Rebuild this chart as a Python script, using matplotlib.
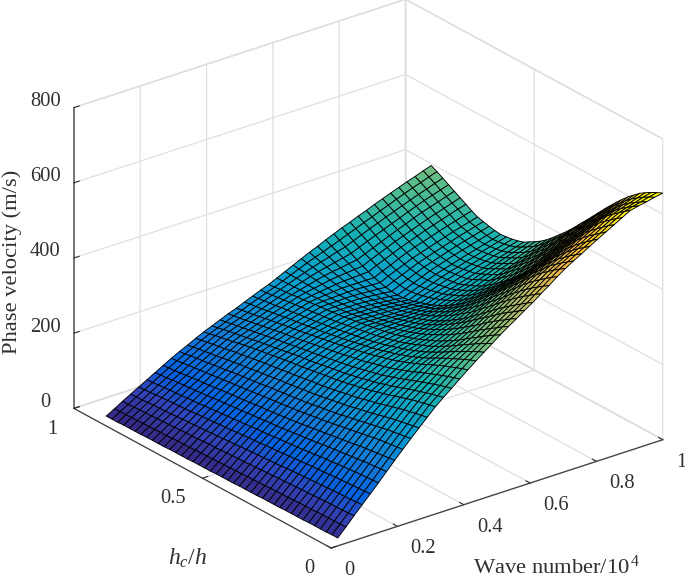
import numpy as np
import matplotlib
matplotlib.use('Agg')
import matplotlib.pyplot as plt
from matplotlib.colors import LinearSegmentedColormap

# hand read values, rows = wave number, columns = hc/h
wave = [0.02, 0.0445, 0.069, 0.0935, 0.118, 0.1425, 0.167, 0.1915, 0.216, 0.2405, 0.265,
        0.2895, 0.314, 0.3385, 0.363, 0.3875, 0.412, 0.4365, 0.461, 0.4855, 0.51,
        0.5345, 0.559, 0.5835, 0.608, 0.6325, 0.657, 0.6815, 0.706, 0.7305, 0.755,
        0.7795, 0.804, 0.8285, 0.853, 0.8775, 0.902, 0.9265, 0.951, 0.9755, 1.0]
ratio = [0.0, 0.0225, 0.045, 0.0675, 0.09, 0.1125, 0.135, 0.1575, 0.18, 0.2025, 0.225,
         0.2475, 0.27, 0.2925, 0.315, 0.3375, 0.36, 0.3825, 0.405, 0.4275, 0.45,
         0.4725, 0.495, 0.5175, 0.54, 0.5625, 0.585, 0.6075, 0.63, 0.6525, 0.675,
         0.6975, 0.72, 0.7425, 0.765, 0.7875, 0.81, 0.8325, 0.855, 0.8775, 0.9]
speed = [
    [21,21,20,20,20,20,19,19,19,19,18,18,18,18,17,17,17,17,16,16,16,16,15,15,15,15,14,14,14,14,13,13,13,13,12,12,12,12,11,11,11],
    [43,43,42,42,42,41,40,40,40,39,38,38,38,37,36,36,35,35,34,34,33,33,32,32,31,31,30,29,29,29,28,27,27,27,26,26,25,25,24,24,23],
    [66,65,64,64,63,63,62,61,60,60,59,58,57,57,55,55,54,53,52,51,51,50,49,48,47,47,46,45,44,44,43,42,41,41,40,39,39,38,37,36,36],
    [88,87,86,85,85,84,83,82,81,80,79,78,77,76,74,73,72,71,70,69,68,67,65,65,63,62,61,60,59,58,57,56,55,54,53,52,52,51,49,49,48],
    [110,109,108,107,106,105,104,103,101,100,99,98,96,95,93,92,90,89,88,86,85,84,82,81,79,78,77,75,74,73,72,70,69,68,67,66,65,64,62,61,60],
    [132,131,130,129,128,126,125,123,121,120,118,116,114,112,110,109,107,106,104,102,101,100,98,96,95,93,92,90,89,87,86,84,83,82,80,79,78,76,75,73,72],
    [155,154,152,151,149,147,145,143,141,139,137,135,132,130,128,126,124,122,120,118,117,115,113,112,110,108,107,105,103,102,100,98,97,95,94,92,91,89,87,86,84],
    [178,176,174,172,170,168,166,163,160,158,155,153,150,148,145,143,140,138,136,134,132,130,128,127,125,123,121,119,118,116,114,112,110,108,107,105,103,101,99,98,96],
    [200,198,196,194,192,189,186,183,180,177,174,171,168,165,162,160,157,155,152,150,148,146,144,142,140,138,136,134,132,130,128,126,124,122,120,118,116,114,112,110,108],
    [222,219,217,214,212,208,205,201,198,194,191,188,184,181,178,176,173,170,167,165,163,161,159,157,155,153,150,148,146,144,142,140,137,135,133,130,128,126,124,121,119],
    [243,240,237,234,231,227,223,219,215,211,208,204,200,197,194,191,188,185,182,180,178,175,173,171,169,167,164,162,160,157,155,153,150,148,145,142,140,137,135,132,129],
    [264,261,258,254,251,246,242,237,233,228,225,220,216,213,210,206,203,200,197,195,193,190,188,185,183,181,178,176,174,171,169,166,163,161,158,154,152,149,146,143,140],
    [285,282,278,274,270,265,260,255,250,245,241,236,232,228,225,221,218,215,212,210,207,204,202,199,197,195,192,190,187,184,182,179,176,173,170,166,163,160,157,153,150],
    [303,299,295,290,285,280,275,269,264,258,254,248,244,240,236,232,229,225,222,220,217,214,211,208,206,204,201,198,195,192,190,187,184,181,178,175,172,169,166,162,159],
    [320,316,311,306,300,295,289,283,277,271,266,260,255,251,247,243,239,235,232,229,226,223,220,217,214,212,209,206,203,200,198,195,192,189,186,183,180,177,174,171,168],
    [338,333,328,322,316,310,304,297,290,284,278,272,267,262,258,254,249,245,242,239,235,232,229,226,223,220,217,214,211,208,206,203,200,197,194,191,188,185,182,180,177],
    [355,350,344,338,332,325,318,311,303,297,290,284,278,273,268,264,259,255,251,248,244,241,237,234,231,228,225,222,219,216,213,211,208,205,202,199,196,193,190,188,185],
    [372,366,359,352,344,337,329,321,312,305,298,291,285,280,274,270,265,260,256,253,249,246,242,239,236,233,230,227,225,222,219,217,215,212,209,207,204,201,199,197,194],
    [388,381,373,365,356,348,339,330,321,313,305,298,292,286,280,275,270,265,261,257,253,250,247,244,241,238,235,232,230,227,225,223,221,218,216,214,211,209,207,205,203],
    [404,396,387,378,368,359,349,339,330,321,313,305,299,292,286,280,275,270,266,262,258,255,252,249,246,243,240,237,235,233,231,229,227,225,223,221,219,217,215,213,212],
    [420,411,401,391,380,370,359,348,338,329,320,312,305,298,291,285,280,275,270,266,262,259,256,253,250,247,245,242,240,238,236,235,233,231,229,228,226,224,223,221,220],
    [435,426,415,405,394,384,372,361,350,340,330,321,313,305,297,290,284,278,273,268,264,260,257,253,250,247,245,242,240,238,237,236,235,234,233,233,232,231,231,230,230],
    [449,440,429,419,408,397,385,373,362,351,340,330,320,311,303,295,288,281,275,270,265,261,257,253,249,246,244,241,239,238,237,236,236,236,236,237,237,238,239,239,240],
    [464,454,443,433,422,410,398,386,374,362,350,339,328,318,309,300,292,284,278,272,267,262,257,253,249,246,243,241,239,238,237,237,237,238,239,241,243,245,247,248,250],
    [478,468,457,446,435,423,411,398,385,372,360,347,335,324,314,304,295,287,280,274,268,262,257,252,248,245,242,240,238,237,237,237,238,240,242,245,248,251,254,257,260],
    [494,484,473,462,450,438,425,412,398,384,372,358,345,334,323,312,302,293,284,277,270,263,258,252,248,244,241,238,236,235,235,236,238,240,244,248,252,256,261,265,270],
    [509,499,488,477,465,452,439,425,410,396,383,369,355,343,331,319,308,298,288,280,272,264,258,252,247,243,239,236,233,232,233,234,237,240,245,250,255,261,267,273,279],
    [525,515,504,492,480,467,453,438,423,408,394,380,365,352,339,326,314,303,292,283,274,265,258,252,246,242,237,234,231,230,231,233,236,240,246,252,259,266,274,281,289],
    [540,530,519,507,495,481,466,451,435,420,405,390,375,361,347,333,320,308,296,285,275,266,258,251,245,240,235,231,228,227,228,231,235,240,247,254,262,271,280,289,298],
    [553,542,531,519,507,492,477,462,445,430,414,399,383,368,354,340,327,314,302,291,281,272,265,258,252,247,243,239,237,236,238,241,245,250,257,264,271,280,289,298,307],
    [565,554,543,530,518,503,488,472,455,439,423,407,390,375,361,346,333,320,308,297,287,278,271,264,258,254,250,247,245,245,247,250,254,259,266,273,280,289,298,306,315],
    [578,566,555,542,529,514,499,482,465,449,432,415,398,382,368,353,339,326,314,303,293,284,277,270,264,261,258,255,254,254,256,259,263,269,275,282,289,298,307,315,324],
    [590,578,566,553,540,525,509,492,475,458,440,423,405,389,374,359,345,332,320,309,298,290,283,276,270,267,265,263,262,263,265,268,272,278,284,291,298,306,315,323,332],
    [602,590,578,566,553,538,521,504,486,469,451,434,416,400,385,370,355,342,330,318,306,298,291,283,277,274,272,270,269,270,272,275,279,286,292,299,307,315,324,332,341],
    [614,603,591,578,565,550,533,515,498,480,463,445,428,411,396,380,365,352,339,326,314,306,298,291,284,281,278,276,275,277,279,282,286,293,300,307,315,323,332,340,349],
    [626,615,603,591,578,562,545,527,509,491,474,456,439,422,407,391,375,362,348,335,322,314,306,298,291,288,285,283,282,284,286,289,293,300,308,315,324,332,340,349,357],
    [638,627,615,603,590,574,556,538,520,502,485,467,450,433,417,401,385,371,357,343,330,321,313,305,298,294,291,289,288,290,293,296,300,307,315,323,332,340,348,357,365],
    [643,633,622,611,598,583,566,549,532,514,497,479,462,444,428,412,395,381,367,352,339,329,321,313,305,301,298,296,294,296,299,303,307,314,322,330,339,348,356,365,373],
    [647,638,628,618,606,592,576,560,543,525,508,490,473,455,439,422,405,390,376,361,348,337,328,320,312,307,304,302,300,302,305,309,313,320,329,337,346,355,363,372,380],
    [652,644,635,625,614,601,586,571,554,537,520,502,484,466,450,432,415,400,385,370,357,345,336,327,319,314,310,308,306,308,311,315,319,327,336,344,353,362,371,380,388],
    [656,649,641,632,622,609,596,581,565,548,531,513,495,477,460,442,425,409,394,379,365,353,343,334,325,320,316,314,312,314,317,321,325,333,342,351,360,369,378,387,395],
]
x_ticks = [0, 0.2, 0.4, 0.6, 0.8, 1]
x_labels = ['0', '0.2', '0.4', '0.6', '0.8', '1']
y_ticks = [0, 0.5, 1]
y_labels = ['0', '0.5', '1']
z_ticks = [0, 200, 400, 600, 800]

parula = LinearSegmentedColormap.from_list('parula', [
    (0 / 63, (0.2081, 0.1663, 0.5292)), (4 / 63, (0.1959, 0.2645, 0.7279)),
    (8 / 63, (0.0117, 0.3875, 0.8820)), (14 / 63, (0.0723, 0.4887, 0.8467)),
    (21 / 63, (0.0265, 0.6137, 0.8135)), (28 / 63, (0.0843, 0.6928, 0.7062)),
    (34 / 63, (0.3022, 0.7376, 0.5712)), (40 / 63, (0.5709, 0.7485, 0.4494)),
    (46 / 63, (0.7858, 0.7356, 0.3633)), (52 / 63, (0.9739, 0.7314, 0.2666)),
    (55 / 63, (0.9955, 0.7861, 0.1967)), (58 / 63, (0.9697, 0.8481, 0.1475)),
    (63 / 63, (0.9763, 0.9831, 0.0538))])

plt.rcParams['font.family'] = 'Liberation Serif'
plt.rcParams['mathtext.fontset'] = 'custom'
plt.rcParams['mathtext.rm'] = 'Liberation Serif'
plt.rcParams['mathtext.it'] = 'Liberation Serif:italic'
plt.rcParams['font.size'] = 14.8

fig = plt.figure(figsize=(6.85, 5.79), dpi=100)
ax = fig.add_axes([18 / 685, 8 / 579, 1, 1], projection='3d')
ax.set_proj_type('ortho')
ax.view_init(elev=24.9, azim=-127.8)
ax.set_box_aspect((1, 1, 0.79), zoom=1.14)

X, Y = np.meshgrid(wave, ratio, indexing='ij')
Z = np.array(speed, dtype=float)
surf = ax.plot_surface(X, Y, Z, rstride=1, cstride=1, cmap=parula, edgecolor='k',
                       linewidth=0.65, shade=False, antialiased=True)
surf.set_clip_on(False)

ax.set_xlim(0, 1)
ax.set_ylim(0, 1)
ax.set_zlim(0, 800)
ax.set_xticks(x_ticks, x_labels, ha='left', va='center')
ax.set_yticks(y_ticks, y_labels, ha='right', va='center')
ax.set_zticks(z_ticks, [str(v) for v in z_ticks], va='baseline')
ax.zaxis.set_ticks_position('upper')

for axis in (ax.xaxis, ax.yaxis, ax.zaxis):
    axis.set_pane_color((1, 1, 1, 1))
    axis.pane.set_edgecolor('#d4d4d4')
    axis.line.set_color('#404040')
    axis.line.set_linewidth(0.9)
    axis._axinfo['grid']['color'] = '#e0e0e0'
    axis._axinfo['grid']['linewidth'] = 0.9
    axis._axinfo['tick']['color'] = '#404040'
    axis._axinfo['tick']['inward_factor'] = 0
    axis._axinfo['tick']['outward_factor'] = 0.2
    axis.set_tick_params(labelsize=14.8, colors='#303030', pad=3)
ax.zaxis.set_tick_params(pad=2.5)
ax.zaxis.line.set_color('#606060')
ax.zaxis.line.set_linewidth(1.2)

fig.text(473 / 685, 1 - 574 / 579, 'Wave number/10$^{\\,4}$', color='#303030', va='baseline', ha='left', fontsize=16.2)
fig.text(168 / 685, 1 - 558 / 579, '$h_{c}/h$', color='#303030', va='center', ha='left', fontsize=17)
fig.text(12 / 685, 1 - 262 / 579, 'Phase velocity (m/s)', color='#303030', rotation=90, va='center', ha='center', fontsize=16.2)

fig.savefig('out.png', dpi=100)
